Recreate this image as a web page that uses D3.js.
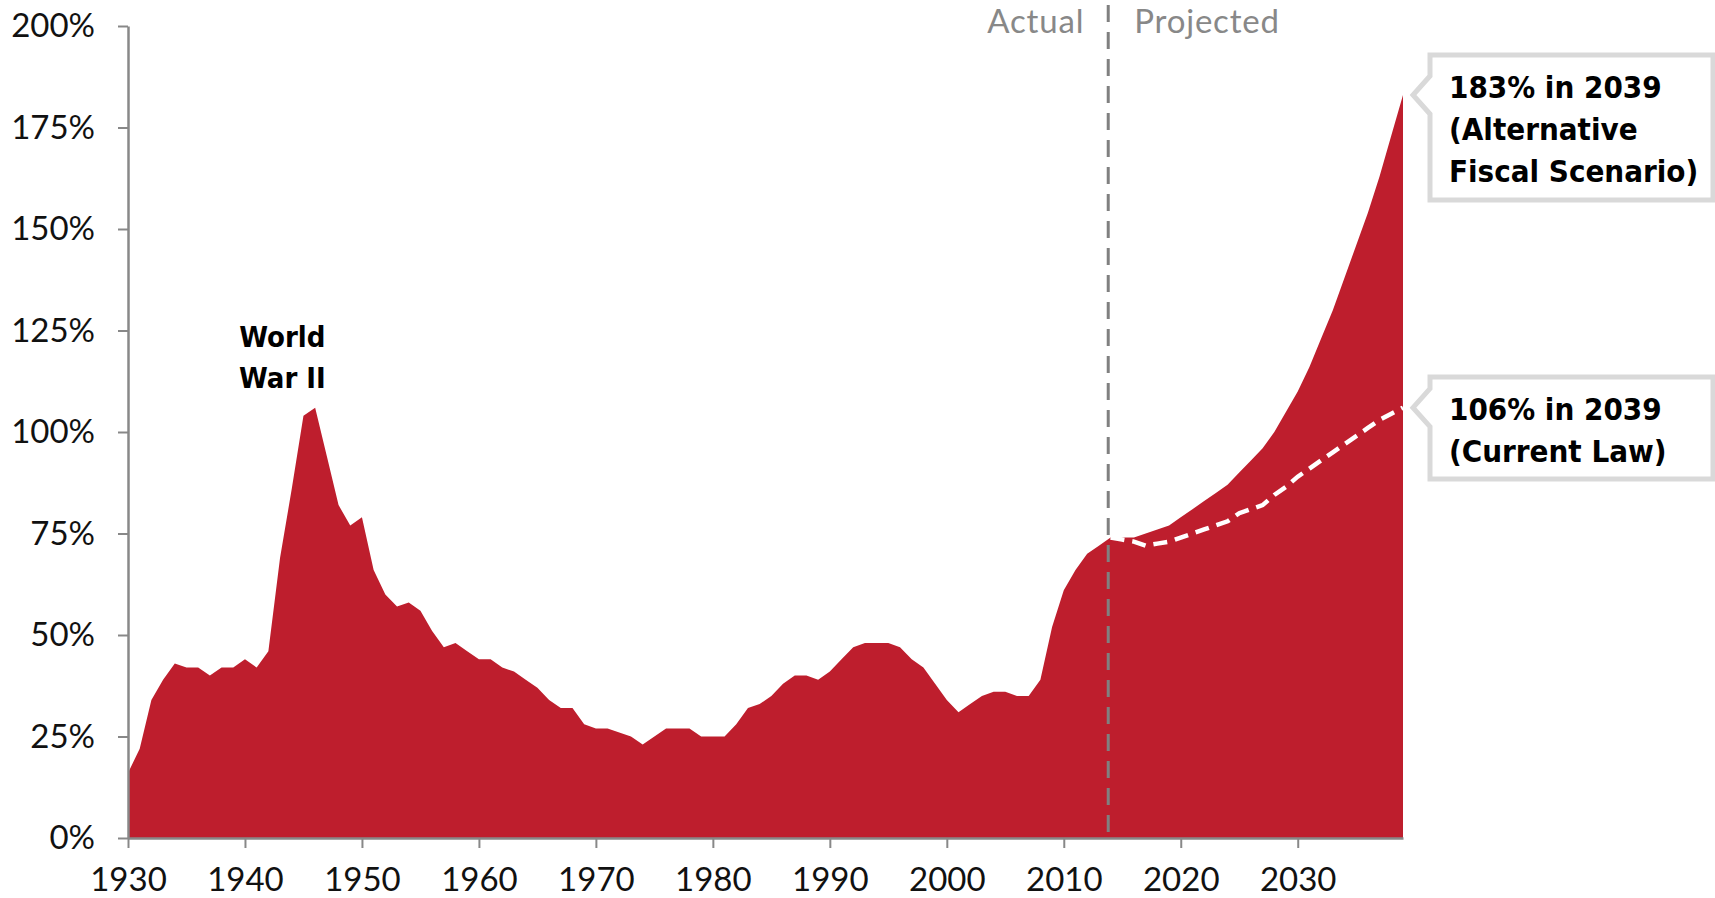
<!DOCTYPE html>
<html>
<head>
<meta charset="utf-8">
<script src="https://cdn.jsdelivr.net/npm/d3@7"></script>
<style>
  body { margin: 0; background: #fff; }
  .tick-label { font-family: Lato, "Open Sans", sans-serif; font-size: 33px; fill: #111; }
  .bold-note { font-family: "DejaVu Sans Condensed", "Liberation Sans Narrow", "DejaVu Sans", sans-serif;
               font-stretch: condensed; font-weight: bold; fill: #000; }
</style>
</head>
<body>
<svg id="chart"></svg>
<script>
// Federal debt held by the public, % of GDP
var histYears = d3.range(1930, 2015);
var histValues = [
  16, 22, 34, 39, 43, 42, 42, 40, 42, 42,   // 1930s
  44, 42, 46, 69, 86, 104, 106, 94, 82, 77, // 1940s
  79, 66, 60, 57, 58, 56, 51, 47, 48, 46,   // 1950s
  44, 44, 42, 41, 39, 37, 34, 32, 32, 28,   // 1960s
  27, 27, 26, 25, 23, 25, 27, 27, 27, 25,   // 1970s
  25, 25, 28, 32, 33, 35, 38, 40, 40, 39,   // 1980s
  41, 44, 47, 48, 48, 48, 47, 44, 42, 38,   // 1990s
  34, 31, 33, 35, 36, 36, 35, 35, 39, 52,   // 2000s
  61, 66, 70, 72, 74                        // 2010-2014
];

// Alternative fiscal scenario (projected)
var afsYears = d3.range(2015, 2040);
var afsValues = [74, 74, 75, 76, 77, 79, 81, 83, 85, 87, 90, 93, 96, 100, 105,
                 110, 116, 123, 130, 138, 146, 154, 163, 173, 183];

// Current law (projected, dashed)
var lawYears = d3.range(2014, 2040);
var lawValues = [74, 73.5, 73, 72, 72.5, 73, 74, 75, 76, 77, 78, 80, 81, 82, 84.5,
                 86.5, 89, 91, 93, 95, 97, 99, 101, 103, 104.5, 106];

var xTicks = d3.range(1930, 2031, 10);
var yTicks = d3.range(0, 201, 25);

var width = 1715, height = 898;

var svg = d3.select("#chart")
  .attr("width", width)
  .attr("height", height);

var xScale = d3.scaleLinear().domain([1930, 2039]).range([128, 1403]);
var yScale = d3.scaleLinear().domain([0, 200]).range([838, 26]);

// one series for the filled area: actual then alternative scenario
var areaData = histYears.map(function(y, i) { return { year: y, value: histValues[i] }; })
  .concat(afsYears.map(function(y, i) { return { year: y, value: afsValues[i] }; }));

var area = d3.area()
  .x(function(d) { return xScale(d.year); })
  .y0(yScale(0))
  .y1(function(d) { return yScale(d.value); });

svg.append("path")
  .datum(areaData)
  .attr("d", area)
  .attr("fill", "#be1e2d");

// current law dashed line
var lawData = lawYears.map(function(y, i) { return { year: y, value: lawValues[i] }; });
svg.append("path")
  .datum(lawData)
  .attr("d", d3.line()
    .x(function(d) { return xScale(d.year); })
    .y(function(d) { return yScale(d.value); }))
  .attr("fill", "none")
  .attr("stroke", "#fff")
  .attr("stroke-width", 4.5)
  .attr("stroke-dasharray", "14,8");

// axes
var yAxis = d3.axisLeft(yScale)
  .tickValues(yTicks)
  .tickSize(10)
  .tickSizeOuter(0)
  .tickPadding(23)
  .tickFormat(function(d) { return d + "%"; });

var xAxis = d3.axisBottom(xScale)
  .tickValues(xTicks)
  .tickSize(10)
  .tickSizeOuter(0)
  .tickPadding(20)
  .tickFormat(d3.format("d"));

var gy = svg.append("g")
  .attr("transform", "translate(" + xScale(1930) + ",0)")
  .call(yAxis);

var gx = svg.append("g")
  .attr("transform", "translate(0," + yScale(0) + ")")
  .call(xAxis);

[gx, gy].forEach(function(g) {
  g.select(".domain").attr("stroke", "#888").attr("stroke-width", 2.5);
  g.selectAll(".tick line").attr("stroke", "#888").attr("stroke-width", 2);
  g.selectAll(".tick text").attr("class", "tick-label").attr("fill", null);
});

// actual / projected divider
var divider = 2013.8;
svg.append("line")
  .attr("x1", xScale(divider)).attr("x2", xScale(divider))
  .attr("y1", 5).attr("y2", yScale(0))
  .attr("stroke", "#808080")
  .attr("stroke-width", 3)
  .attr("stroke-dasharray", "17,10");

svg.append("text")
  .attr("class", "tick-label")
  .attr("x", xScale(divider) - 24)
  .attr("y", 33)
  .attr("text-anchor", "end")
  .style("fill", "#888")
  .style("letter-spacing", "0.8px")
  .text("Actual");

svg.append("text")
  .attr("class", "tick-label")
  .attr("x", xScale(divider) + 26)
  .attr("y", 33)
  .style("fill", "#888")
  .style("letter-spacing", "0.8px")
  .text("Projected");

// World War II note
var ww = svg.append("text")
  .attr("class", "bold-note")
  .attr("text-anchor", "middle")
  .style("font-size", "29px");
ww.append("tspan").attr("x", xScale(1943.2)).attr("y", 347).text("World");
ww.append("tspan").attr("x", xScale(1943.2)).attr("y", 388).text("War II");

// callout boxes pointing at the 2039 values
var callouts = [
  { value: afsValues[afsValues.length - 1], top: 55, bottom: 200,
    lines: ["183% in 2039", "(Alternative", "Fiscal Scenario)"] },
  { value: lawValues[lawValues.length - 1], top: 377, bottom: 479,
    lines: ["106% in 2039", "(Current Law)"] }
];

callouts.forEach(function(c) {
  var left = 1430, right = 1713, tipX = 1413, half = 19;
  var tipY = yScale(c.value);
  var p = d3.path();
  p.moveTo(left, c.top);
  p.lineTo(right, c.top);
  p.lineTo(right, c.bottom);
  p.lineTo(left, c.bottom);
  p.lineTo(left, tipY + half);
  p.lineTo(tipX, tipY);
  p.lineTo(left, tipY - half);
  p.closePath();
  svg.append("path")
    .attr("d", p.toString())
    .attr("fill", "#fff")
    .attr("stroke", "#d9d9d9")
    .attr("stroke-width", 5);

  var t = svg.append("text")
    .attr("class", "bold-note")
    .style("font-size", "31px");
  c.lines.forEach(function(line, i) {
    t.append("tspan")
      .attr("x", 1449)
      .attr("y", c.top + 43 + i * 42)
      .text(line);
  });
});
</script>
</body>
</html>
